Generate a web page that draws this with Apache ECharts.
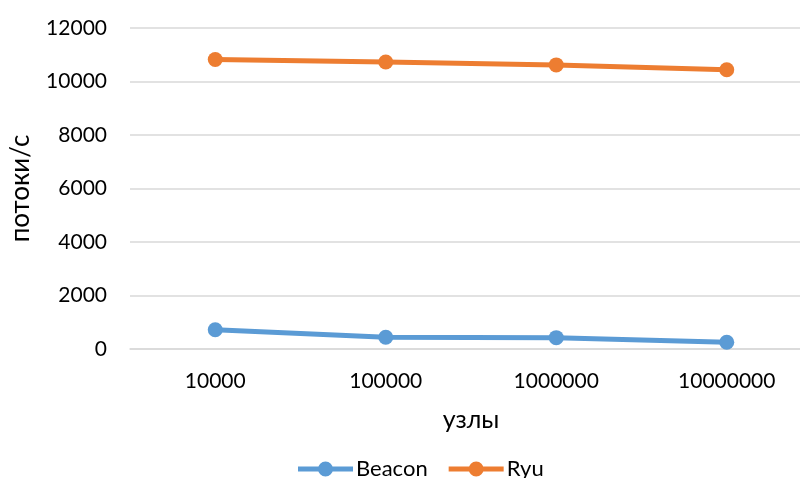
<!DOCTYPE html>
<html><head><meta charset="utf-8">
<script src="https://cdn.jsdelivr.net/npm/echarts@6/dist/echarts.min.js"></script>
<style>html,body{margin:0;padding:0;background:#fff;overflow:hidden}#c{width:812px;height:478px}</style>
</head><body><div id="c"></div>
<script>
const categories = ['10000', '100000', '1000000', '10000000'];
const beacon = [720, 440, 425, 255];
const ryu = [10820, 10730, 10620, 10440];
const yTicks = [0, 2000, 4000, 6000, 8000, 10000, 12000];

const FONT = 'Lato';
const legendIcon = 'path://M0,5 L55,5 L55,10 L0,10 Z M20,7.5 A7.5,7.5 0 1,1 35,7.5 A7.5,7.5 0 1,1 20,7.5 Z';
const chart = echarts.init(document.getElementById('c'), null, {renderer: 'canvas'});
chart.setOption({
  animation: false,
  textStyle: {fontFamily: FONT, color: '#000'},
  grid: {left: 125, top: 28, right: 0, height: 321, containLabel: false},
  legend: {
    left: 293, top: 453,
    itemWidth: 55, itemHeight: 15, itemGap: 21,
    icon: legendIcon,
    textStyle: {fontFamily: FONT, fontSize: 22, color: '#000', padding: [0, 0, 0, -2]},
    data: ['Beacon', 'Ryu']
  },
  xAxis: {
    type: 'category', data: categories, boundaryGap: true,
    name: 'узлы', nameLocation: 'middle', nameGap: 58,
    nameTextStyle: {fontFamily: FONT, fontSize: 25, color: '#000'},
    axisLine: {lineStyle: {color: '#d9d9d9', width: 1.5}},
    axisTick: {show: false},
    axisLabel: {fontFamily: FONT, fontSize: 21, color: '#000', margin: 22}
  },
  yAxis: {
    type: 'value', min: yTicks[0], max: yTicks[yTicks.length - 1], interval: 2000,
    name: 'потоки/с', nameLocation: 'middle', nameGap: 96,
    nameTextStyle: {fontFamily: FONT, fontSize: 26, color: '#000'},
    axisLine: {show: false}, axisTick: {show: false},
    splitLine: {lineStyle: {color: '#d9d9d9', width: 1.5}},
    axisLabel: {fontFamily: FONT, fontSize: 21, color: '#000', margin: 23,
      formatter: v => String(v)}
  },
  series: [
    {name: 'Beacon', type: 'line', data: beacon, symbol: 'circle', symbolSize: 15,
     lineStyle: {width: 5, color: '#5b9bd5'}, itemStyle: {color: '#5b9bd5'}},
    {name: 'Ryu', type: 'line', data: ryu, symbol: 'circle', symbolSize: 15,
     lineStyle: {width: 5, color: '#ed7d31'}, itemStyle: {color: '#ed7d31'}}
  ]
});
</script></body></html>
